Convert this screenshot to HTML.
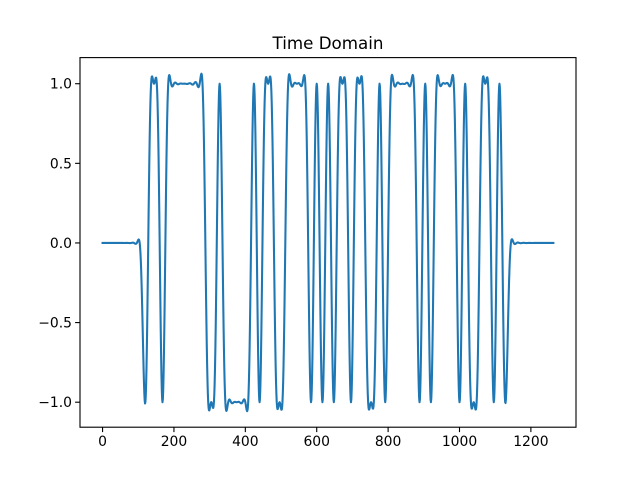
<!DOCTYPE html>
<html><head><meta charset="utf-8"><style>
html,body{margin:0;padding:0;background:#fff;}
svg{display:block;font-family:"DejaVu Sans","Liberation Sans",sans-serif;}
</style></head><body>
<svg id="chart" width="640" height="480" viewBox="0 0 640 480" xmlns="http://www.w3.org/2000/svg">
<rect width="640" height="480" fill="#fff"/>
<text x="328" y="49" text-anchor="middle" font-size="16.7" fill="#000">Time Domain</text>
<g id="plot"></g>
<rect x="80" y="57.6" width="496" height="369.6" fill="none" stroke="#000" stroke-width="1.11"/>
<g id="xt"></g>
<g id="yt"></g>
</svg>
<script>
const symbols = [-1,1,1,-1,1,1,1,1,1,1,1,-1,-1,1,-1,-1,-1,-1,-1,1,-1,1,1,-1,-1,1,1,1,1,-1,1,-1,1,-1,1,1,-1,1,1,-1,-1,1,-1,1,1,1,1,1,-1,1,-1,1,1,1,1,-1,1,-1,-1,1,1,-1,1,-1];
const firstSymbolIndex = 7;
const samplesPerSymbol = 16;
const numSamples = 1264;
const xTicks = [0,200,400,600,800,1000,1200];
const yTicks = [-1.0,-0.5,0.0,0.5,1.0];
const yTickLabels = ["\u22121.0","\u22120.5","0.0","0.5","1.0"];

const L=80,R=576,T=57.6,B=427.2;
const xmin=-63.2,xmax=1326.4,ymin=-1.157,ymax=1.164;
const sx=v=>L+(v-xmin)/(xmax-xmin)*(R-L);
const sy=v=>B-(v-ymin)/(ymax-ymin)*(B-T);
const NS='http://www.w3.org/2000/svg';

const beta=1.0;
function sinc(t){return Math.abs(t)<1e-9?1:Math.sin(Math.PI*t)/(Math.PI*t);}
function rc(t){
  const d=1-Math.pow(2*beta*t,2);
  if(Math.abs(d)<1e-6) return (Math.PI/4)*sinc(1/(2*beta));
  return sinc(t)*Math.cos(Math.PI*beta*t)/d;
}
let pts=[];
for(let n=0;n<numSamples;n++){
  let v=0;
  for(let k=0;k<symbols.length;k++){
    const c=(firstSymbolIndex+k)*samplesPerSymbol+8;
    const t=(n-c)/samplesPerSymbol;
    if(Math.abs(t)<10) v+=symbols[k]*rc(t);
  }
  pts.push(sx(n).toFixed(2)+','+sy(v).toFixed(2));
}
const line=document.createElementNS(NS,'polyline');


line.setAttribute('points',pts.join(' '));
line.setAttribute('fill','none');
line.setAttribute('stroke','#1f77b4');
line.setAttribute('stroke-width','2.08');
line.setAttribute('stroke-linejoin','round');
line.setAttribute('stroke-linecap','square');
document.getElementById('plot').appendChild(line);

const xt=document.getElementById('xt');
xTicks.forEach(v=>{
  const x=sx(v);
  const tk=document.createElementNS(NS,'line');
  
  
  tk.setAttribute('x1',x);tk.setAttribute('x2',x);tk.setAttribute('y1',B);tk.setAttribute('y2',B+4.9);
  tk.setAttribute('stroke','#000');tk.setAttribute('stroke-width','1.11');
  xt.appendChild(tk);
  const tx=document.createElementNS(NS,'text');
  
  
  tx.setAttribute('x',x);tx.setAttribute('y',B+19);
  tx.setAttribute('text-anchor','middle');tx.setAttribute('font-size','13.9');
  tx.textContent=String(v);
  xt.appendChild(tx);
});
const yt=document.getElementById('yt');
yTicks.forEach((v,i)=>{
  const y=sy(v);
  const tk=document.createElementNS(NS,'line');
  
  
  tk.setAttribute('x1',L-4.9);tk.setAttribute('x2',L);tk.setAttribute('y1',y);tk.setAttribute('y2',y);
  tk.setAttribute('stroke','#000');tk.setAttribute('stroke-width','1.11');
  yt.appendChild(tk);
  const tx=document.createElementNS(NS,'text');
  
  
  tx.setAttribute('x',L-8);tx.setAttribute('y',y+5);
  tx.setAttribute('text-anchor','end');tx.setAttribute('font-size','13.9');
  tx.textContent=yTickLabels[i];
  yt.appendChild(tx);
});
</script>
</body></html>
